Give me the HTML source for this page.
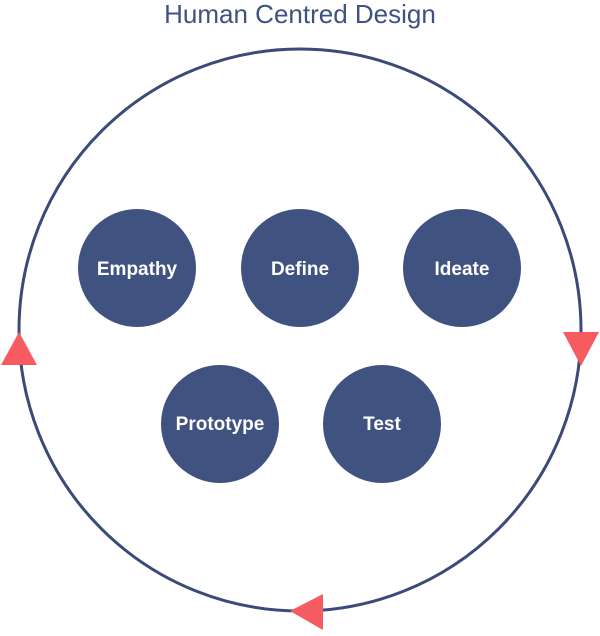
<!DOCTYPE html>
<html><head><style>body{margin:0;background:#fff}</style></head><body>
<svg width="600" height="631" xmlns="http://www.w3.org/2000/svg">
<rect width="600" height="631" fill="#fff"/>
<text x="300" y="23" text-anchor="middle" font-family="Liberation Sans, sans-serif" font-size="26" fill="#3e5282">Human Centred Design</text>
<circle cx="300" cy="330" r="281" fill="none" stroke="#3b4a78" stroke-width="3"/>
<g fill="#3f5280">
<circle cx="137" cy="268" r="59"/><circle cx="300" cy="268" r="59"/><circle cx="462" cy="268" r="59"/>
<circle cx="220" cy="424" r="59"/><circle cx="382" cy="424" r="59"/>
</g>
<g font-family="Liberation Sans, sans-serif" font-weight="bold" font-size="19" fill="#fff" text-anchor="middle">
<text x="137" y="275">Empathy</text><text x="300" y="275">Define</text><text x="462" y="275">Ideate</text>
<text x="220" y="430">Prototype</text><text x="382" y="430">Test</text>
</g>
<g fill="#f65b61">
<polygon points="19,332 1,365 37,365"/>
<polygon points="581,366 563,332 599,332"/>
<polygon points="290,611 323,594 323,630"/>
</g>
</svg>
</body></html>
